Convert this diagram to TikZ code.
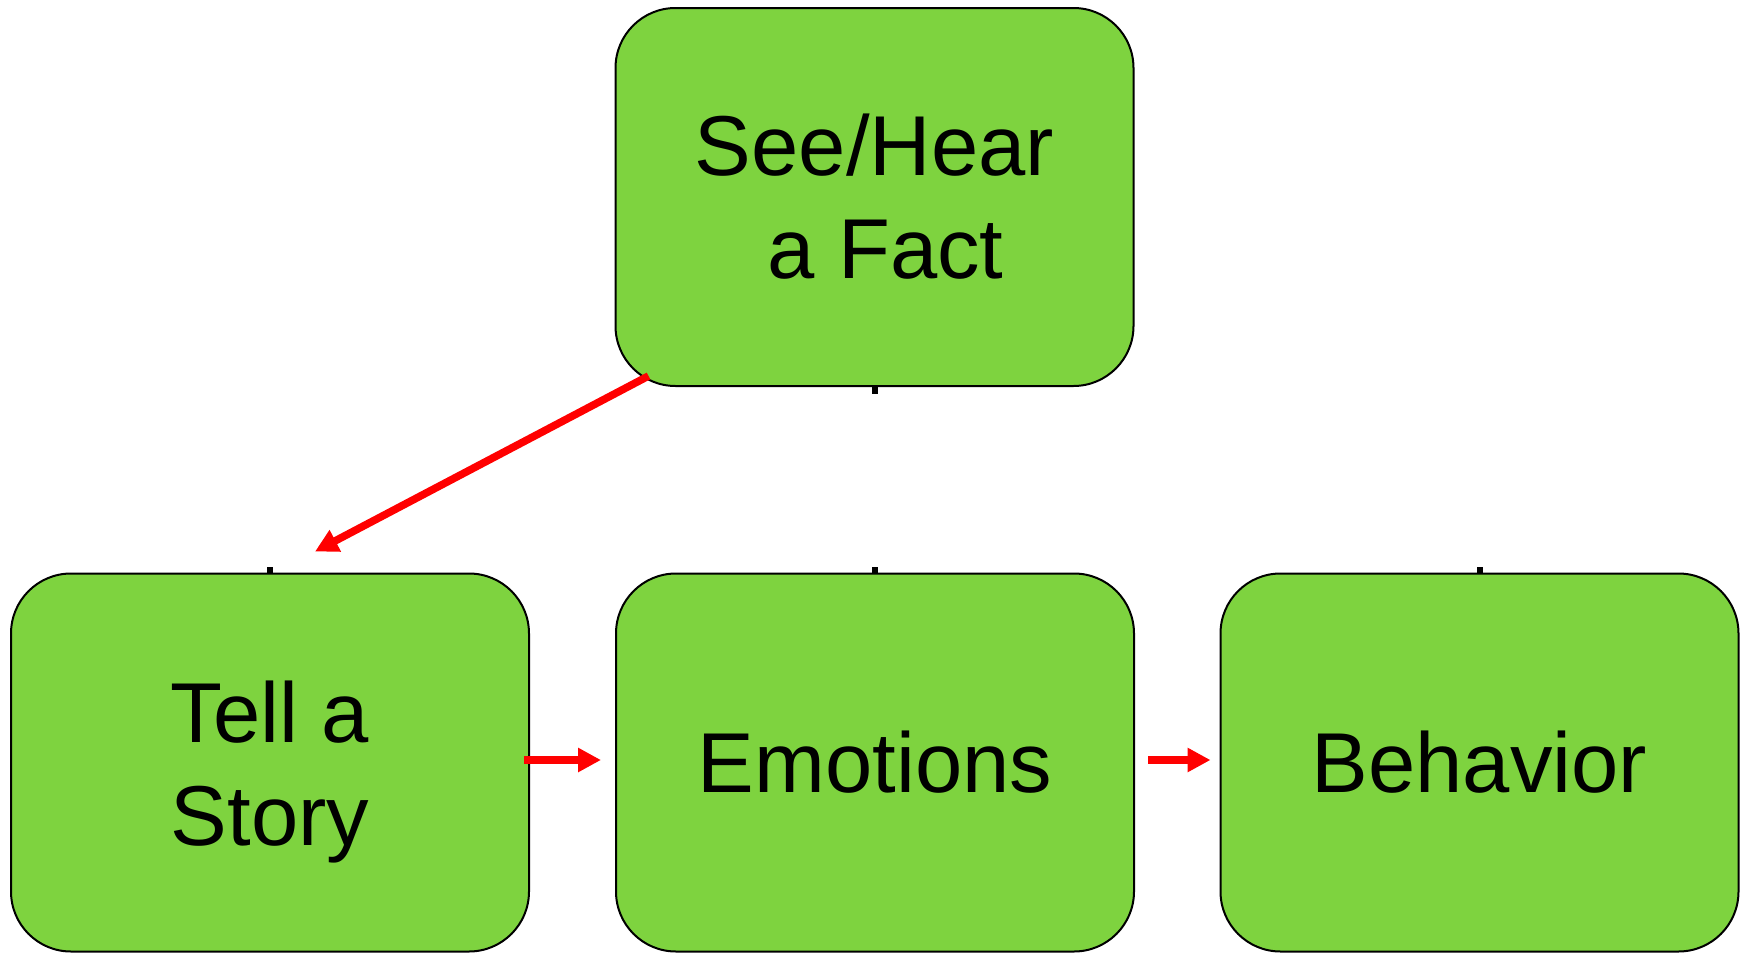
\documentclass[tikz,border=0pt]{standalone}
\usepackage{fontspec}
\setmainfont{Liberation Sans}
\usetikzlibrary{arrows.meta}
\definecolor{boxgreen}{RGB}{126,211,63}
\definecolor{arrowred}{RGB}{255,0,0}
\tikzset{
  stage/.style={draw=black, line width=1pt, fill=boxgreen, rounded corners=30pt,
    minimum width=259pt, minimum height=189pt, inner sep=0pt, align=center,
    font=\fontsize{42.5pt}{51.5pt}\selectfont, text=black},
  flow/.style={draw=arrowred, line width=3.8pt,
    -{Triangle[length=11.5pt,width=11.5pt]}},
  stub/.style={draw=black, line width=3pt}
}
\begin{document}
\begin{tikzpicture}[x=0.5pt,y=-0.5pt]
  \useasboundingbox[fill=white] (0,0) rectangle (1746,953);

  % the four stages
  \node[stage] (fact) at (874.5,197) {See/Hear\\\hspace*{11pt}a Fact};
  \node[stage] (story) at (270,762.5) {\rule{0pt}{40pt}Tell a\\Story};
  \node[stage] (emo) at (875,762.5) {Emotions};
  \node[stage] (beh) at (1479.5,762.5) {Behavior};

  % short connector stubs
  \draw[stub] (fact.south) -- ++(0,7);
  \draw[stub] (story.north) -- ++(0,-6);
  \draw[stub] (emo.north) -- ++(0,-6);
  \draw[stub] (beh.north) -- ++(0,-6);

  % flow arrows
  \coordinate (d0) at ([shift={(34,-11)}]fact.south west);
  \coordinate (d1) at ([shift={(45,-21)}]story.north);
  \draw[flow] (d0) -- (d1);

  \coordinate (s0) at ([shift={(-6,-2.5)}]story.east);
  \coordinate (s1) at ([shift={(-14,-2.5)}]emo.west);
  \draw[flow] (s0) -- (s1);

  \coordinate (e0) at ([shift={(13,-2.5)}]emo.east);
  \coordinate (e1) at ([shift={(-9,-2.5)}]beh.west);
  \draw[flow] (e0) -- (e1);
\end{tikzpicture}
\end{document}
